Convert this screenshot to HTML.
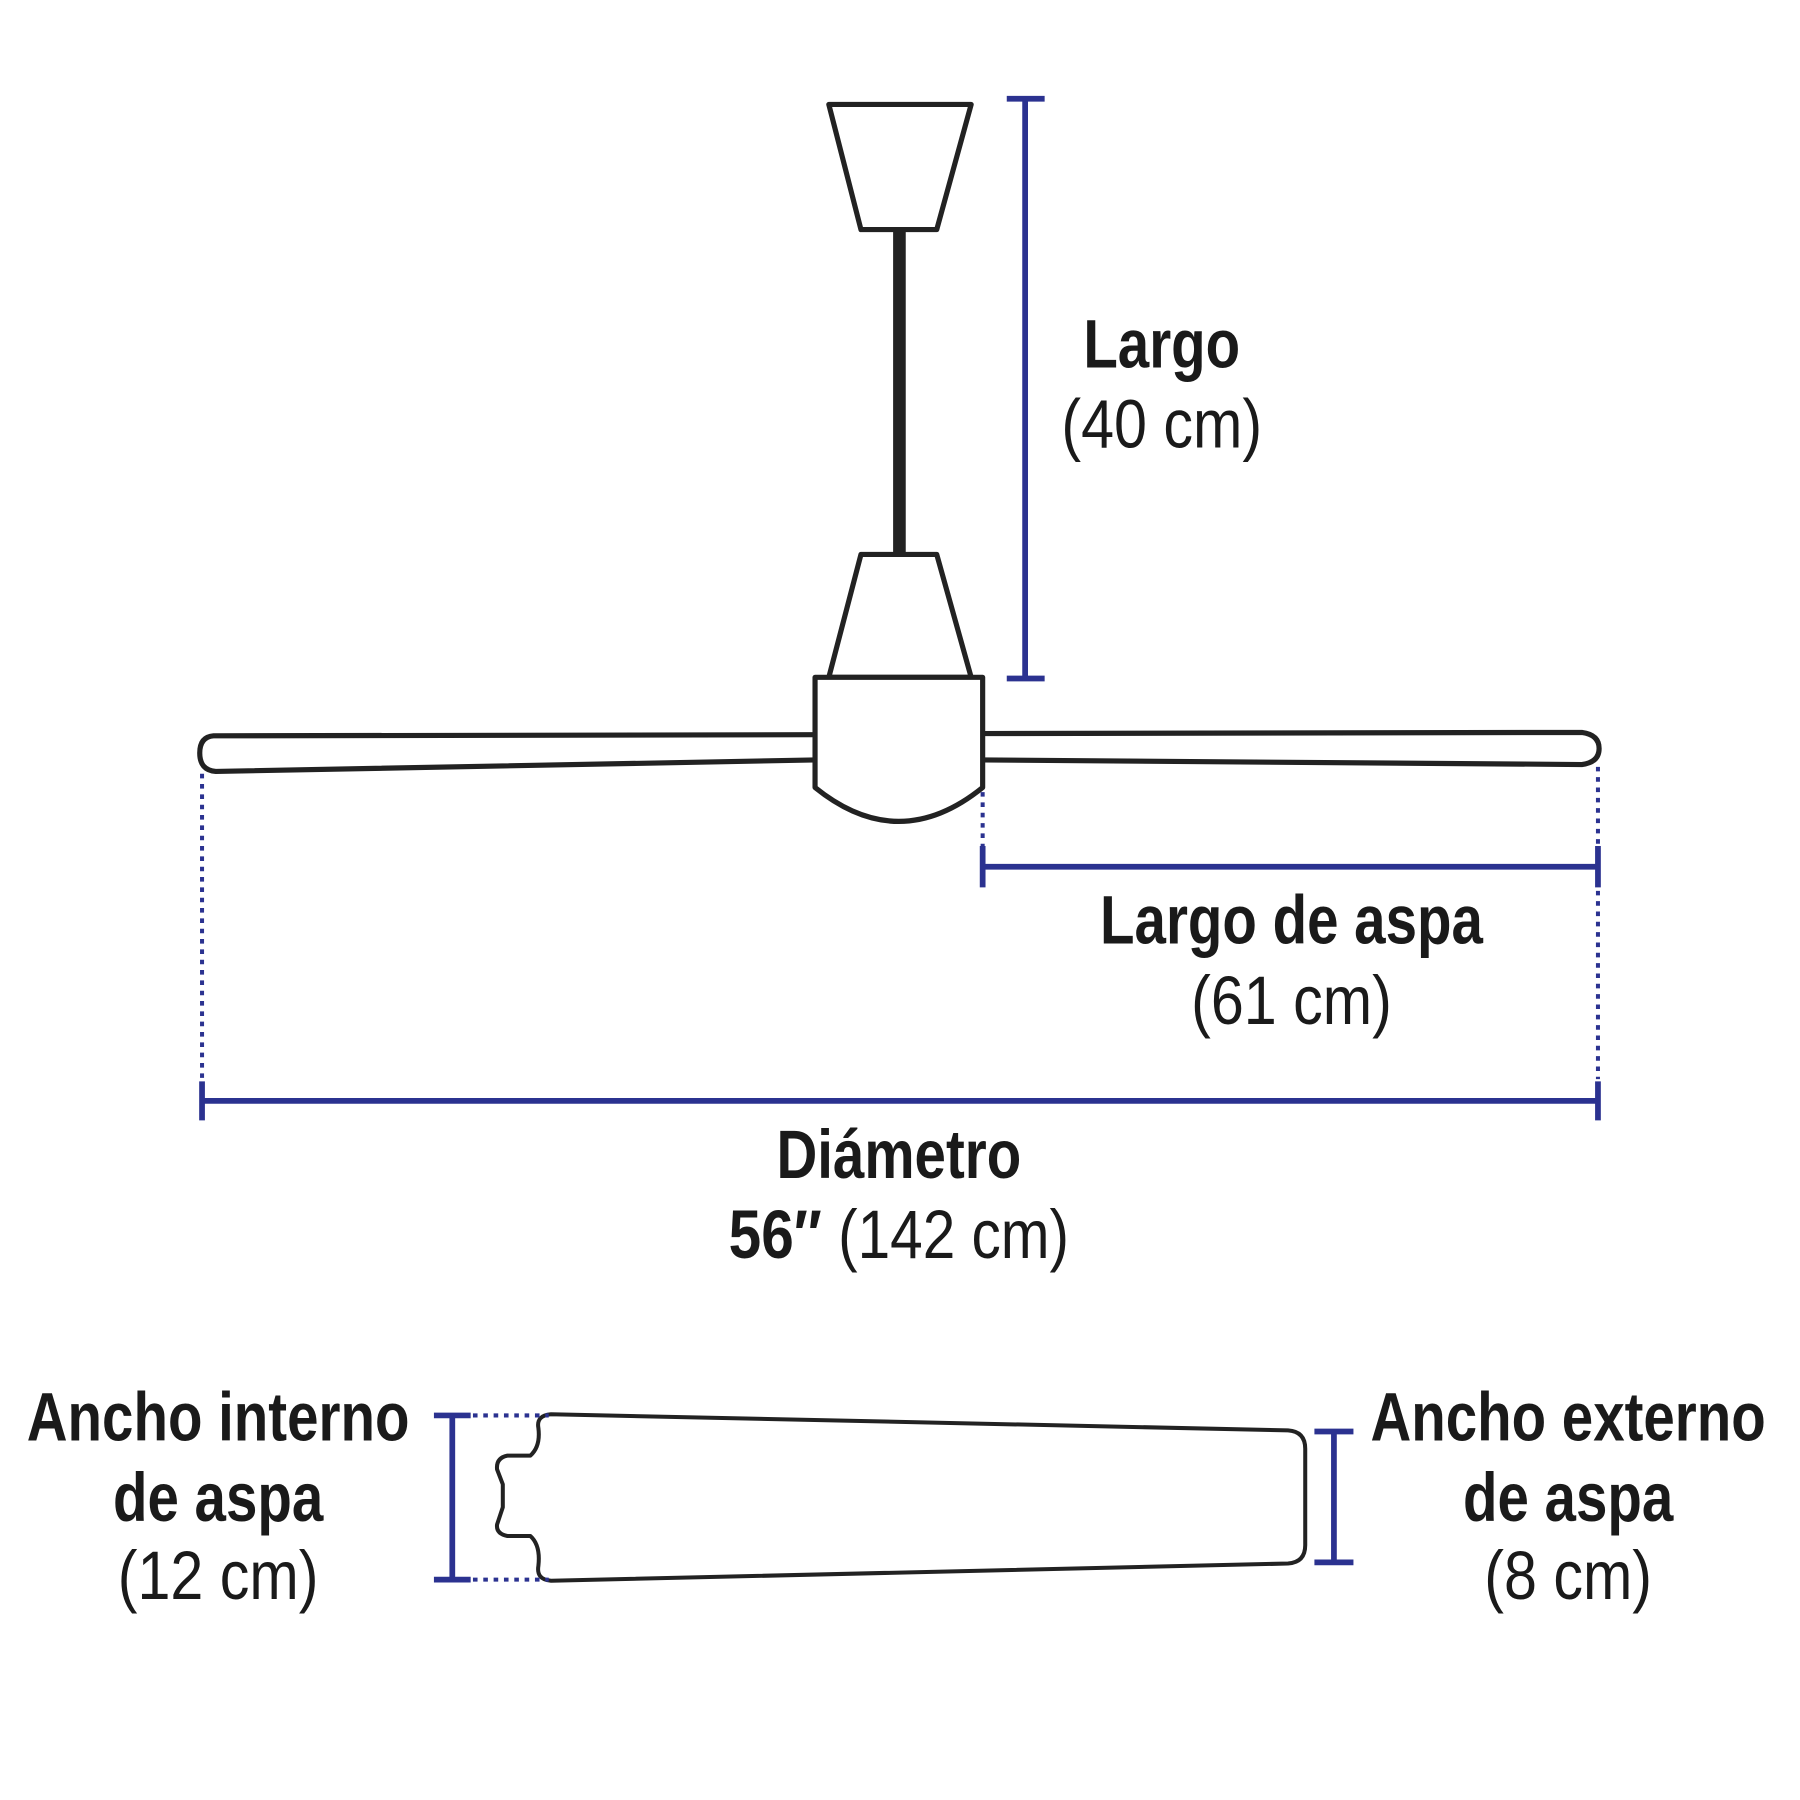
<!DOCTYPE html>
<html><head><meta charset="utf-8"><style>
html,body{margin:0;padding:0;background:#fff;}
svg{display:block;}
text{font-family:"Liberation Sans",sans-serif;fill:#1a1a1a;text-anchor:middle;font-size:60px;}
.b{font-weight:bold;}
</style></head><body>
<svg width="1800" height="1800" viewBox="0 0 1568 1568" xmlns="http://www.w3.org/2000/svg">
<g fill="none" stroke="#222" stroke-width="4.5" stroke-linejoin="round">
<path d="M722,91 L846,91 L816,200 L750,200 Z" fill="#fff"/>
<path d="M750,483 L816,483 L846,590 L722,590 Z" fill="#fff"/>
<path d="M710,640 L186,641 Q174,642 174,656 Q174,671 188,672 L710,662"/>
<path d="M856,639 L1378,638 Q1393,640 1393,652 Q1393,664 1378,666 L856,662"/>
<path d="M710,590 L856,590 L856,686 Q783,745 710,686 Z" fill="#fff"/>
<path d="M480,1232 L1122,1246 Q1137,1247 1137,1262 L1137,1346 Q1137,1361 1122,1362 L480,1377 Q467,1376 469,1364 Q471,1346 462,1338 L442,1338 Q432,1336 433,1328 L438,1313 L438,1293 L433,1280 Q432,1270 442,1268 L462,1268 Q471,1260 469,1244 Q467,1233 480,1232 Z" stroke-width="3.5"/>
</g>
<rect x="778" y="200" width="11" height="283" fill="#222"/>
<g stroke="#2b3290" stroke-width="5" fill="none">
<path d="M893,86 V591 M877,86 H910 M877,591 H910"/>
<path d="M856,755 H1392 M856,737 V773 M1392,737 V773"/>
<path d="M176,959 H1392 M176,942 V976 M1392,942 V976"/>
<path d="M394,1233 V1376 M378,1233 H410 M378,1376 H410"/>
<path d="M1162,1247 V1361 M1145,1247 H1179 M1145,1361 H1179"/>
</g>
<g stroke="#2b3290" stroke-width="3.5" stroke-dasharray="4,5" fill="none">
<path d="M856,690 V737 M1392,668 V940 M176,674 V942"/>
<path d="M412,1233 H478 M412,1376 H478"/>
</g>
<text class="b" transform="translate(1012,0) scale(0.82,1)" y="320">Largo</text>
<text transform="translate(1012,0) scale(0.86,1)" y="390">(40 cm)</text>
<text class="b" transform="translate(1125,0) scale(0.82,1)" y="822">Largo de aspa</text>
<text transform="translate(1125,0) scale(0.86,1)" y="892">(61 cm)</text>
<text class="b" transform="translate(783,0) scale(0.82,1)" y="1026">Diámetro</text>
<text transform="translate(783,0) scale(0.85,1)" y="1096"><tspan class="b">56″</tspan> (142 cm)</text>
<text class="b" transform="translate(190,0) scale(0.82,1)" y="1255">Ancho interno</text>
<text class="b" transform="translate(190,0) scale(0.82,1)" y="1325">de aspa</text>
<text transform="translate(190,0) scale(0.86,1)" y="1393">(12 cm)</text>
<text class="b" transform="translate(1366,0) scale(0.82,1)" y="1255">Ancho externo</text>
<text class="b" transform="translate(1366,0) scale(0.82,1)" y="1325">de aspa</text>
<text transform="translate(1366,0) scale(0.86,1)" y="1393">(8 cm)</text>
</svg>
</body></html>
